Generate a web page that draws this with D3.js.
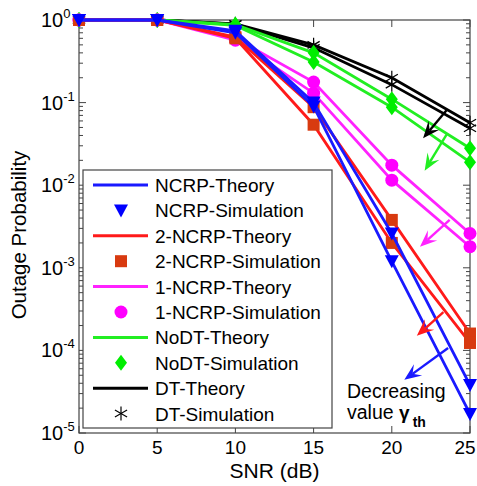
<!DOCTYPE html>
<html>
<head>
<meta charset="utf-8">
<script src="https://cdn.jsdelivr.net/npm/d3@7"></script>
<style>
  body { margin: 0; background: #fff; }
  svg text { font-family: "Liberation Sans", Arial, sans-serif; fill: #000; }
</style>
</head>
<body>
<div id="chart"></div>
<script>
// data
var snr = [0, 5, 10, 15, 20, 25];

var ncrpA = [1, 1, 0.74, 0.10, 0.0026, 3.8e-5];
var ncrpB = [1, 1, 0.70, 0.09, 0.0012, 1.7e-5];
var ncrp2A = [1, 1, 0.62, 0.088, 0.0038, 1.6e-4];
var ncrp2B = [1, 1, 0.60, 0.054, 0.0020, 1.23e-4];
var ncrp1A = [1, 1, 0.60, 0.177, 0.0175, 0.0026];
var ncrp1B = [1, 1, 0.57, 0.13, 0.0115, 0.0018];
var nodtA = [1, 1, 0.88, 0.40, 0.11, 0.028];
var nodtB = [1, 1, 0.86, 0.31, 0.088, 0.019];
var dtA = [1, 1, 0.90, 0.50, 0.20, 0.057];
var dtB = [1, 1, 0.89, 0.46, 0.165, 0.049];

var xTicks = [0, 5, 10, 15, 20, 25];
var yTickExp = [0, -1, -2, -3, -4, -5];

// arrows "decreasing value" : [snr, p] tail -> tip
var arrows = [
  { color: "#000000", from: [23.5, 0.081], to: [22.0, 0.037] },
  { color: "#22ee22", from: [23.5, 0.041], to: [22.1, 0.015] },
  { color: "#ff22ff", from: [23.7, 0.0038], to: [21.8, 0.0018] },
  { color: "#ff1a1a", from: [23.3, 2.9e-4], to: [21.6, 1.5e-4] },
  { color: "#1a1aff", from: [23.6, 1.07e-4], to: [20.8, 4.4e-5] }
];

var series = [
  { name: "NCRP", line: "#1a1aff", fill: "#0000ff", marker: "tri", curves: [ncrpA, ncrpB] },
  { name: "2-NCRP", line: "#ff1a1a", fill: "#d83a10", marker: "square", curves: [ncrp2A, ncrp2B] },
  { name: "1-NCRP", line: "#ff22ff", fill: "#ff00ff", marker: "circle", curves: [ncrp1A, ncrp1B] },
  { name: "NoDT", line: "#22ee22", fill: "#00ee00", marker: "diamond", curves: [nodtA, nodtB] },
  { name: "DT", line: "#000000", fill: "#000000", marker: "star", curves: [dtA, dtB] }
];

var width = 477;
var height = 486;
var plotL = 79, plotR = 470, plotT = 20, plotB = 433;

var svg = d3.select("#chart")
  .append("svg")
  .attr("width", width)
  .attr("height", height);

var xScale = d3.scaleLinear().domain([0, 25]).range([plotL, plotR]);
var yScale = d3.scaleLog().domain([1e-5, 1]).range([plotB, plotT]);

// frame
svg.append("rect")
  .attr("x", plotL).attr("y", plotT)
  .attr("width", plotR - plotL).attr("height", plotB - plotT)
  .attr("fill", "none").attr("stroke", "#444").attr("stroke-width", 1.2);

// ticks, drawn inside like matlab
var minor = [];
for (var e = -5; e < 0; e++) {
  for (var m = 2; m <= 9; m++) minor.push(m * Math.pow(10, e));
}
var tickG = svg.append("g").attr("stroke", "#444").attr("stroke-width", 1);
minor.forEach(function(v) {
  tickG.append("line").attr("x1", plotL).attr("x2", plotL + 4).attr("y1", yScale(v)).attr("y2", yScale(v));
  tickG.append("line").attr("x1", plotR).attr("x2", plotR - 4).attr("y1", yScale(v)).attr("y2", yScale(v));
});
yTickExp.forEach(function(ex) {
  var y = yScale(Math.pow(10, ex));
  tickG.append("line").attr("x1", plotL).attr("x2", plotL + 7).attr("y1", y).attr("y2", y);
  tickG.append("line").attr("x1", plotR).attr("x2", plotR - 7).attr("y1", y).attr("y2", y);
});
xTicks.forEach(function(t) {
  var x = xScale(t);
  tickG.append("line").attr("x1", x).attr("x2", x).attr("y1", plotB).attr("y2", plotB - 7);
  tickG.append("line").attr("x1", x).attr("x2", x).attr("y1", plotT).attr("y2", plotT + 7);
});

// tick labels
svg.append("g").selectAll("text")
  .data(xTicks).enter()
  .append("text")
  .attr("x", function(d) { return Math.min(xScale(d), width - 12); })
  .attr("y", plotB + 21)
  .attr("text-anchor", "middle")
  .style("font-size", "19px")
  .text(function(d) { return d; });

var yLab = svg.append("g").selectAll("text")
  .data(yTickExp).enter()
  .append("text")
  .attr("x", 41)
  .attr("y", function(d) { return yScale(Math.pow(10, d)) + 7; })
  .style("font-size", "20px");
yLab.append("tspan").text("10");
yLab.append("tspan")
  .attr("dy", -9)
  .style("font-size", "13px")
  .text(function(d) { return d; });

// axis titles
svg.append("text")
  .attr("x", (plotL + plotR) / 2)
  .attr("y", 478)
  .attr("text-anchor", "middle")
  .style("font-size", "21px")
  .text("SNR (dB)");

svg.append("text")
  .attr("transform", "translate(26,235)rotate(-90)")
  .attr("text-anchor", "middle")
  .style("font-size", "20.5px")
  .text("Outage Probability");

// markers
function drawMarker(g, type, x, y, fill) {
  if (type === "tri") {
    g.append("path")
      .attr("d", "M" + (x - 7) + "," + (y - 6) + "L" + (x + 7) + "," + (y - 6) + "L" + x + "," + (y + 7) + "Z")
      .attr("fill", fill);
  } else if (type === "square") {
    g.append("rect").attr("x", x - 6).attr("y", y - 6).attr("width", 12).attr("height", 12).attr("fill", fill);
  } else if (type === "circle") {
    g.append("circle").attr("cx", x).attr("cy", y).attr("r", 6.5).attr("fill", fill);
  } else if (type === "diamond") {
    g.append("path")
      .attr("d", "M" + x + "," + (y - 8) + "L" + (x + 6) + "," + y + "L" + x + "," + (y + 8) + "L" + (x - 6) + "," + y + "Z")
      .attr("fill", fill);
  } else if (type === "star") {
    for (var k = 0; k < 3; k++) {
      var a = Math.PI / 2 + k * Math.PI / 3;
      g.append("line")
        .attr("x1", x - 7 * Math.cos(a)).attr("y1", y - 7 * Math.sin(a))
        .attr("x2", x + 7 * Math.cos(a)).attr("y2", y + 7 * Math.sin(a))
        .attr("stroke", fill).attr("stroke-width", 1.2);
    }
  }
}

var line = d3.line()
  .x(function(d, i) { return xScale(snr[i]); })
  .y(function(d) { return yScale(d); });

var plotG = svg.append("g");
series.slice().reverse().forEach(function(s) {
  s.curves.forEach(function(c) {
    plotG.append("path")
      .datum(c)
      .attr("d", line)
      .attr("fill", "none")
      .attr("stroke", s.line)
      .attr("stroke-width", 2.8);
  });
  s.curves.forEach(function(c) {
    c.forEach(function(v, i) {
      drawMarker(plotG, s.marker, xScale(snr[i]), yScale(v), s.fill);
    });
  });
});

// arrows
arrows.forEach(function(a) {
  var x1 = xScale(a.from[0]), y1 = yScale(a.from[1]);
  var x2 = xScale(a.to[0]), y2 = yScale(a.to[1]);
  var ang = Math.atan2(y2 - y1, x2 - x1);
  var L = 17, W = 7;
  var bx = x2 - L * Math.cos(ang), by = y2 - L * Math.sin(ang);
  var nx = x2 - 0.6 * L * Math.cos(ang), ny = y2 - 0.6 * L * Math.sin(ang);
  var px = -Math.sin(ang), py = Math.cos(ang);
  plotG.append("line")
    .attr("x1", x1).attr("y1", y1).attr("x2", nx).attr("y2", ny)
    .attr("stroke", a.color).attr("stroke-width", 2.4);
  plotG.append("path")
    .attr("d", "M" + x2 + "," + y2 +
      "L" + (bx + W * px) + "," + (by + W * py) +
      "L" + nx + "," + ny +
      "L" + (bx - W * px) + "," + (by - W * py) + "Z")
    .attr("fill", a.color);
});

// annotation
var note = svg.append("g").style("font-size", "19.5px");
note.append("text").attr("x", 347).attr("y", 398).text("Decreasing");
var note2 = note.append("text").attr("x", 347).attr("y", 419);
note2.append("tspan").text("value ");
note2.append("tspan").style("font-weight", "bold").style("font-size", "19px").text("\u03b3");
note2.append("tspan").attr("dy", 8).attr("dx", 3).style("font-weight", "bold").style("font-size", "14px").text("th");

// legend
var legL = 83, legT = 170, legW = 249, legH = 258, rowH = 25.4;
var leg = svg.append("g");
leg.append("rect")
  .attr("x", legL).attr("y", legT).attr("width", legW).attr("height", legH)
  .attr("fill", "#fff").attr("stroke", "#444").attr("stroke-width", 1.2);

var legRows = [];
series.forEach(function(s) {
  legRows.push({ label: s.name + "-Theory", s: s, kind: "line" });
  legRows.push({ label: s.name + "-Simulation", s: s, kind: "marker" });
});
legRows.forEach(function(r, i) {
  var y = legT + 15 + i * rowH;
  if (r.kind === "line") {
    leg.append("line")
      .attr("x1", 93).attr("x2", 148).attr("y1", y).attr("y2", y)
      .attr("stroke", r.s.line).attr("stroke-width", 3);
  } else {
    drawMarker(leg, r.s.marker, 121, y, r.s.fill);
  }
  leg.append("text")
    .attr("x", 155)
    .attr("y", y + 7)
    .style("font-size", "19px")
    .text(r.label);
});
</script>
</body>
</html>
